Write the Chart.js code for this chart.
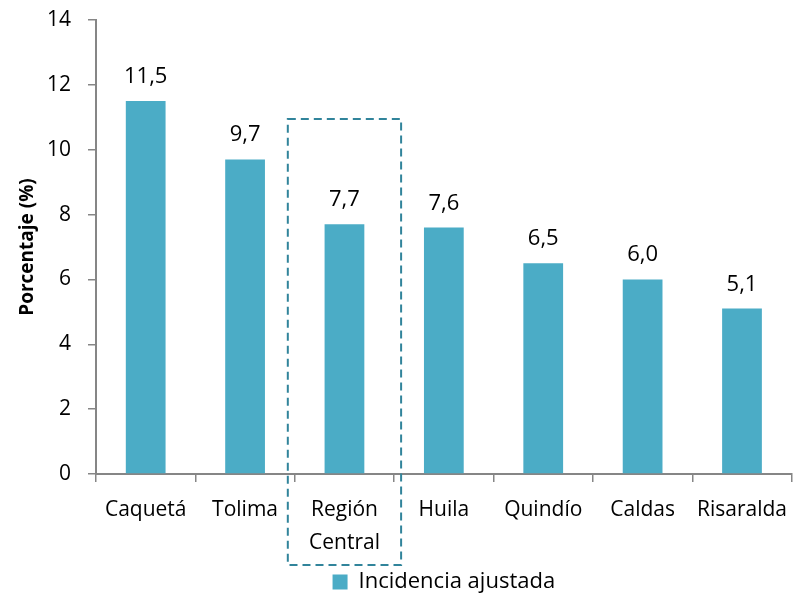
<!DOCTYPE html>
<html>
<head>
<meta charset="utf-8">
<script src="https://cdn.jsdelivr.net/npm/chart.js@4.4.0/dist/chart.umd.min.js"></script>
<style>
  html, body { margin: 0; padding: 0; background: #fff; }
  #wrap { width: 799px; height: 595px; }
</style>
</head>
<body>
<div id="wrap"><canvas id="chart" width="799" height="595"></canvas></div>
<script>
const categories = ["Caquetá", "Tolima", ["Región", "Central"], "Huila", "Quindío", "Caldas", "Risaralda"];
const incidencia = [11.5, 9.7, 7.7, 7.6, 6.5, 6.0, 5.1];
const highlightIndex = 2;

const FONT = "'Open Sans', 'Noto Sans', sans-serif";
const AXIS = '#868686';

// dashed box around the highlighted category
const highlightBox = {
  id: 'highlightBox',
  afterDatasetsDraw(chart) {
    const { ctx, scales } = chart;
    const step = scales.x.getPixelForValue(1) - scales.x.getPixelForValue(0);
    const cx = scales.x.getPixelForValue(highlightIndex);
    const half = step * 0.57;
    const top = scales.y.getPixelForValue(10.95);
    const bottom = scales.x.bottom - 3;
    ctx.save();
    ctx.strokeStyle = '#31849B';
    ctx.lineWidth = 2;
    ctx.setLineDash([8, 5]);
    ctx.strokeRect(cx - half, top, half * 2, bottom - top);
    ctx.restore();
  }
};

// values above bars
const barLabels = {
  id: 'barLabels',
  afterDatasetsDraw(chart) {
    const { ctx } = chart;
    const meta = chart.getDatasetMeta(0);
    ctx.save();
    ctx.font = '22px ' + FONT;
    ctx.fillStyle = '#000';
    ctx.textAlign = 'center';
    ctx.textBaseline = 'alphabetic';
    meta.data.forEach((bar, i) => {
      ctx.fillText(incidencia[i].toFixed(1).replace('.', ','), bar.x, bar.y - 18);
    });
    ctx.restore();
  }
};

new Chart(document.getElementById('chart'), {
  type: 'bar',
  data: {
    labels: categories,
    datasets: [{
      label: 'Incidencia ajustada',
      data: incidencia,
      backgroundColor: '#4BACC6',
      borderWidth: 0,
      categoryPercentage: 1,
      barPercentage: 0.4
    }]
  },
  options: {
    responsive: false,
    animation: false,
    layout: { padding: { top: 0, right: 0, left: 4, bottom: -8 } },
    plugins: {
      legend: {
        position: 'bottom',
        fullSize: false,
        labels: {
          boxWidth: 15,
          boxHeight: 15,
          padding: 3,
          color: '#000',
          font: { family: FONT, size: 22 }
        }
      },
      tooltip: { enabled: false }
    },
    scales: {
      y: {
        min: 0,
        max: 14,
        ticks: {
          stepSize: 2,
          color: '#000',
          padding: 17,
          font: { family: FONT, size: 21 }
        },
        title: {
          display: true,
          text: 'Porcentaje (%)',
          color: '#000',
          font: { family: FONT, size: 19, weight: 'bold' },
          padding: { top: 12, bottom: 10 }
        },
        grid: { drawOnChartArea: false, color: AXIS, tickLength: 8, lineWidth: 1.5 },
        border: { color: AXIS, width: 2 },
        afterFit(scale) {
          scale.width = 92;
          scale.paddingTop = 20;
          scale.paddingBottom = 12;
        }
      },
      x: {
        ticks: {
          color: '#000',
          padding: 12,
          maxRotation: 0,
          autoSkip: false,
          font: { family: FONT, size: 21, lineHeight: 1.55 }
        },
        grid: { drawOnChartArea: false, color: AXIS, tickLength: 8, lineWidth: 1.5, offset: true },
        border: { color: AXIS, width: 2 },
        afterFit(scale) { scale.height = 94; }
      }
    }
  },
  plugins: [highlightBox, barLabels]
});
</script>
</body>
</html>
